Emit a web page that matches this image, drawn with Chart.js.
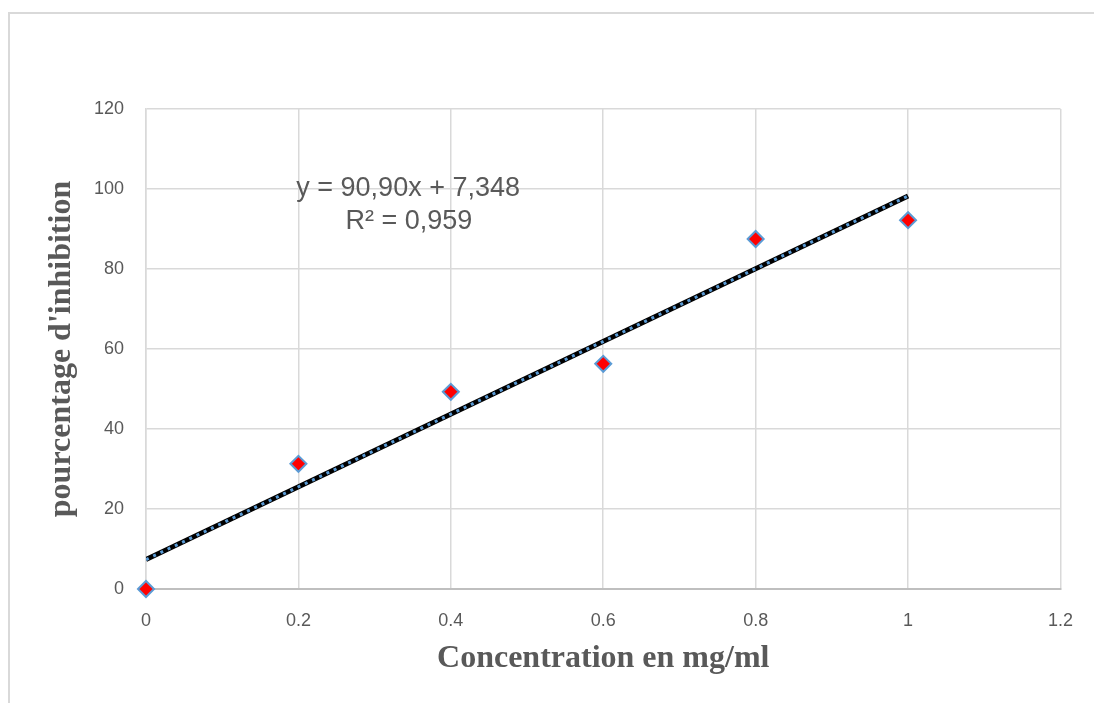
<!DOCTYPE html>
<html>
<head>
<meta charset="utf-8">
<script src="https://cdn.jsdelivr.net/npm/chart.js@4"></script>
<style>
  html, body { margin: 0; padding: 0; background: #fff; }
  #wrap { position: relative; width: 1094px; height: 703px; overflow: hidden; }
  #frame { position: absolute; left: 8px; top: 12px; width: 1100px; height: 700px; border: 2px solid #d9d9d9; box-sizing: border-box; pointer-events: none; }
</style>
</head>
<body>
<div id="wrap">
  <canvas id="chart" width="1094" height="703"></canvas>
  <div id="frame"></div>
</div>
<script>
const concentrations = [0, 0.2, 0.4, 0.6, 0.8, 1];
const inhibition = [0, 31.3, 49.3, 56.3, 87.5, 92.2];
const trendX = [0, 1];
const trendY = [7.35, 98.25];
const xTickLabels = ['0', '0.2', '0.4', '0.6', '0.8', '1', '1.2'];
const equationLines = ['y = 90,90x + 7,348', 'R² = 0,959'];

const textColor = '#595959';
const gridColor = '#d9d9d9';

const toPoints = (xs, ys) => xs.map((x, i) => ({ x, y: ys[i] }));

const equationLabel = {
  id: 'equationLabel',
  afterDatasetsDraw(chart) {
    const { ctx, scales: { x, y } } = chart;
    ctx.save();
    ctx.font = '27px "Liberation Sans", Arial, sans-serif';
    ctx.fillStyle = textColor;
    ctx.textAlign = 'center';
    ctx.textBaseline = 'middle';
    ctx.fillText(equationLines[0], x.getPixelForValue(0.344), y.getPixelForValue(100.2));
    ctx.fillText(equationLines[1], x.getPixelForValue(0.345), y.getPixelForValue(91.8));
    ctx.restore();
  },
};

function setupChart() {
  new Chart(document.getElementById('chart'), {
    type: 'scatter',
    data: {
      datasets: [
        {
          type: 'line',
          label: 'trend',
          data: toPoints(trendX, trendY),
          borderColor: '#000000',
          borderWidth: 5,
          pointRadius: 0,
          order: 3,
        },
        {
          type: 'line',
          label: 'trend dots',
          data: toPoints(trendX, trendY),
          borderColor: '#5b9bd5',
          borderWidth: 3,
          borderDash: [3, 5],
          pointRadius: 0,
          order: 2,
        },
        {
          label: 'inhibition',
          data: toPoints(concentrations, inhibition),
          pointStyle: 'rectRot',
          pointRadius: 8,
          pointBackgroundColor: '#ff0000',
          pointBorderColor: '#5b9bd5',
          pointBorderWidth: 2,
          clip: false,
          order: 1,
        },
      ],
    },
    options: {
      responsive: false,
      animation: false,
      layout: { padding: { top: 109, right: 33, bottom: 0, left: 0 } },
      plugins: {
        legend: { display: false },
        tooltip: { enabled: false },
      },
      scales: {
        x: {
          type: 'linear',
          min: 0,
          max: 1.2,
          afterFit: (scale) => { scale.height = 114; },
          ticks: {
            stepSize: 0.2,
            padding: 21,
            color: textColor,
            font: { family: '"Liberation Sans", Arial, sans-serif', size: 18 },
            callback: (value, index) => xTickLabels[index],
          },
          grid: { color: gridColor, lineWidth: 1.5, drawTicks: false },
          border: { color: '#bfbfbf', width: 2 },
          title: {
            display: true,
            text: 'Concentration en mg/ml',
            color: textColor,
            font: { family: '"Liberation Serif", "Times New Roman", serif', size: 32, weight: 'bold' },
            padding: { top: 0, bottom: 25 },
          },
        },
        y: {
          min: 0,
          max: 120,
          afterFit: (scale) => { scale.width = 146; },
          ticks: {
            stepSize: 20,
            padding: 22,
            color: textColor,
            font: { family: '"Liberation Sans", Arial, sans-serif', size: 18 },
          },
          grid: { color: gridColor, lineWidth: 1.5, drawTicks: false },
          border: { color: gridColor, width: 1.5 },
          title: {
            display: true,
            text: "pourcentage d'inhibition",
            color: textColor,
            font: { family: '"Liberation Serif", "Times New Roman", serif', size: 32, weight: 'bold' },
            padding: { top: 43, bottom: 0 },
          },
        },
      },
    },
    plugins: [equationLabel],
  });
}

document.addEventListener('DOMContentLoaded', setupChart);
</script>
</body>
</html>
